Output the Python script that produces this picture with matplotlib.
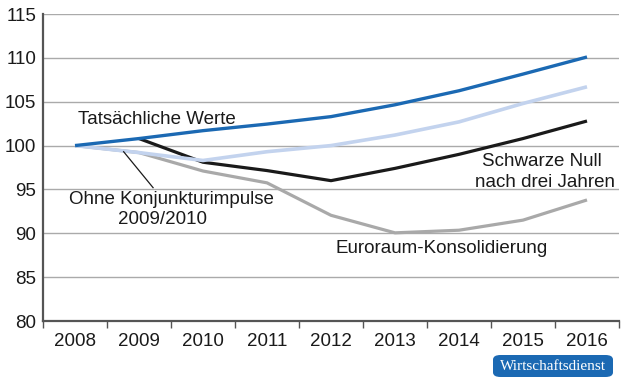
import matplotlib
matplotlib.use("Agg")
import matplotlib.pyplot as plt
from matplotlib.patches import FancyBboxPatch

plt.rcParams['font.family'] = ['Liberation Sans', 'DejaVu Sans']

years = ["2008", "2009", "2010", "2011", "2012", "2013", "2014", "2015", "2016"]
tatsaechlich = [100.0, 100.8, 101.7, 102.45, 103.3, 104.65, 106.25, 108.15, 110.1]
ohne_impulse = [100.0, 99.2, 98.3, 99.3, 100.0, 101.2, 102.7, 104.8, 106.7]
schwarze_null = [100.0, 100.8, 98.1, 97.15, 96.0, 97.4, 99.0, 100.8, 102.8]
euroraum = [100.0, 99.2, 97.1, 95.75, 92.05, 90.05, 90.35, 91.5, 93.8]
yticks = [80, 85, 90, 95, 100, 105, 110, 115]

fig = plt.figure(figsize=(6.3, 3.82), dpi=100)
ax = fig.add_axes([43/630, 1 - 321/382, (619-43)/630, (321-14)/382])

x = list(range(len(years)))
ax.plot(x, euroraum, color="#a9a9a9", lw=2.3, solid_capstyle="butt", zorder=3)
ax.plot(x[1:], schwarze_null[1:], color="#1a1a1a", lw=2.3, solid_capstyle="butt", zorder=4)
ax.plot(x, ohne_impulse, color="#c3d3ee", lw=2.6, solid_capstyle="butt", zorder=5)
ax.plot(x, tatsaechlich, color="#1b69b3", lw=2.4, solid_capstyle="butt", zorder=6)

ax.set_xlim(-0.5, len(years) - 0.5)
ax.set_ylim(80, 115)
ax.set_yticks(yticks)
ax.set_yticklabels([str(v) for v in yticks], fontsize=13.5, color="#1a1a1a")
ax.tick_params(axis='y', length=0, pad=5)
ax.set_xticks(x)
ax.set_xticklabels(years, fontsize=13.5, color="#1a1a1a")
ax.set_xticks([i - 0.5 for i in range(len(years) + 1)], minor=True)
ax.tick_params(axis='x', which='major', length=0, pad=9)
ax.tick_params(axis='x', which='minor', length=5, width=1, color="#555555", direction='out')

ax.grid(axis='y', color="#aaaaaa", lw=1)
ax.set_axisbelow(True)
for s in ['top', 'right']:
    ax.spines[s].set_visible(False)
for s in ['left', 'bottom']:
    ax.spines[s].set_color("#555555")
    ax.spines[s].set_linewidth(1.6)

fs = 13.5
ax.text(0.05, 103.0, "Tatsächliche Werte", fontsize=fs, color="#1a1a1a", va='center', ha='left')
ax.text(7.3, 98.2, "Schwarze Null", fontsize=fs, color="#1a1a1a", va='center', ha='center')
ax.text(7.35, 95.8, "nach drei Jahren", fontsize=fs, color="#1a1a1a", va='center', ha='center')
ax.text(1.51, 93.8, "Ohne Konjunkturimpulse", fontsize=fs, color="#1a1a1a", va='center', ha='center')
ax.text(1.37, 91.55, "2009/2010", fontsize=fs, color="#1a1a1a", va='center', ha='center')
ax.text(4.07, 88.25, "Euroraum-Konsolidierung", fontsize=fs, color="#1a1a1a", va='center', ha='left')
ax.plot([0.76, 1.22], [99.3, 95.2], color="#1a1a1a", lw=0.9, zorder=7)

box = FancyBboxPatch((493/630, 1 - 377/382), (613-493)/630, (377-355)/382,
                     boxstyle="round,pad=0,rounding_size=0.012", transform=fig.transFigure,
                     facecolor="#1b69b3", edgecolor="none")
fig.patches.append(box)
fig.text(553/630, 1 - 366/382, "Wirtschaftsdienst", fontsize=11, color="white",
         family=['Liberation Serif', 'DejaVu Serif'], ha='center', va='center')

fig.savefig("out.png", dpi=100)
